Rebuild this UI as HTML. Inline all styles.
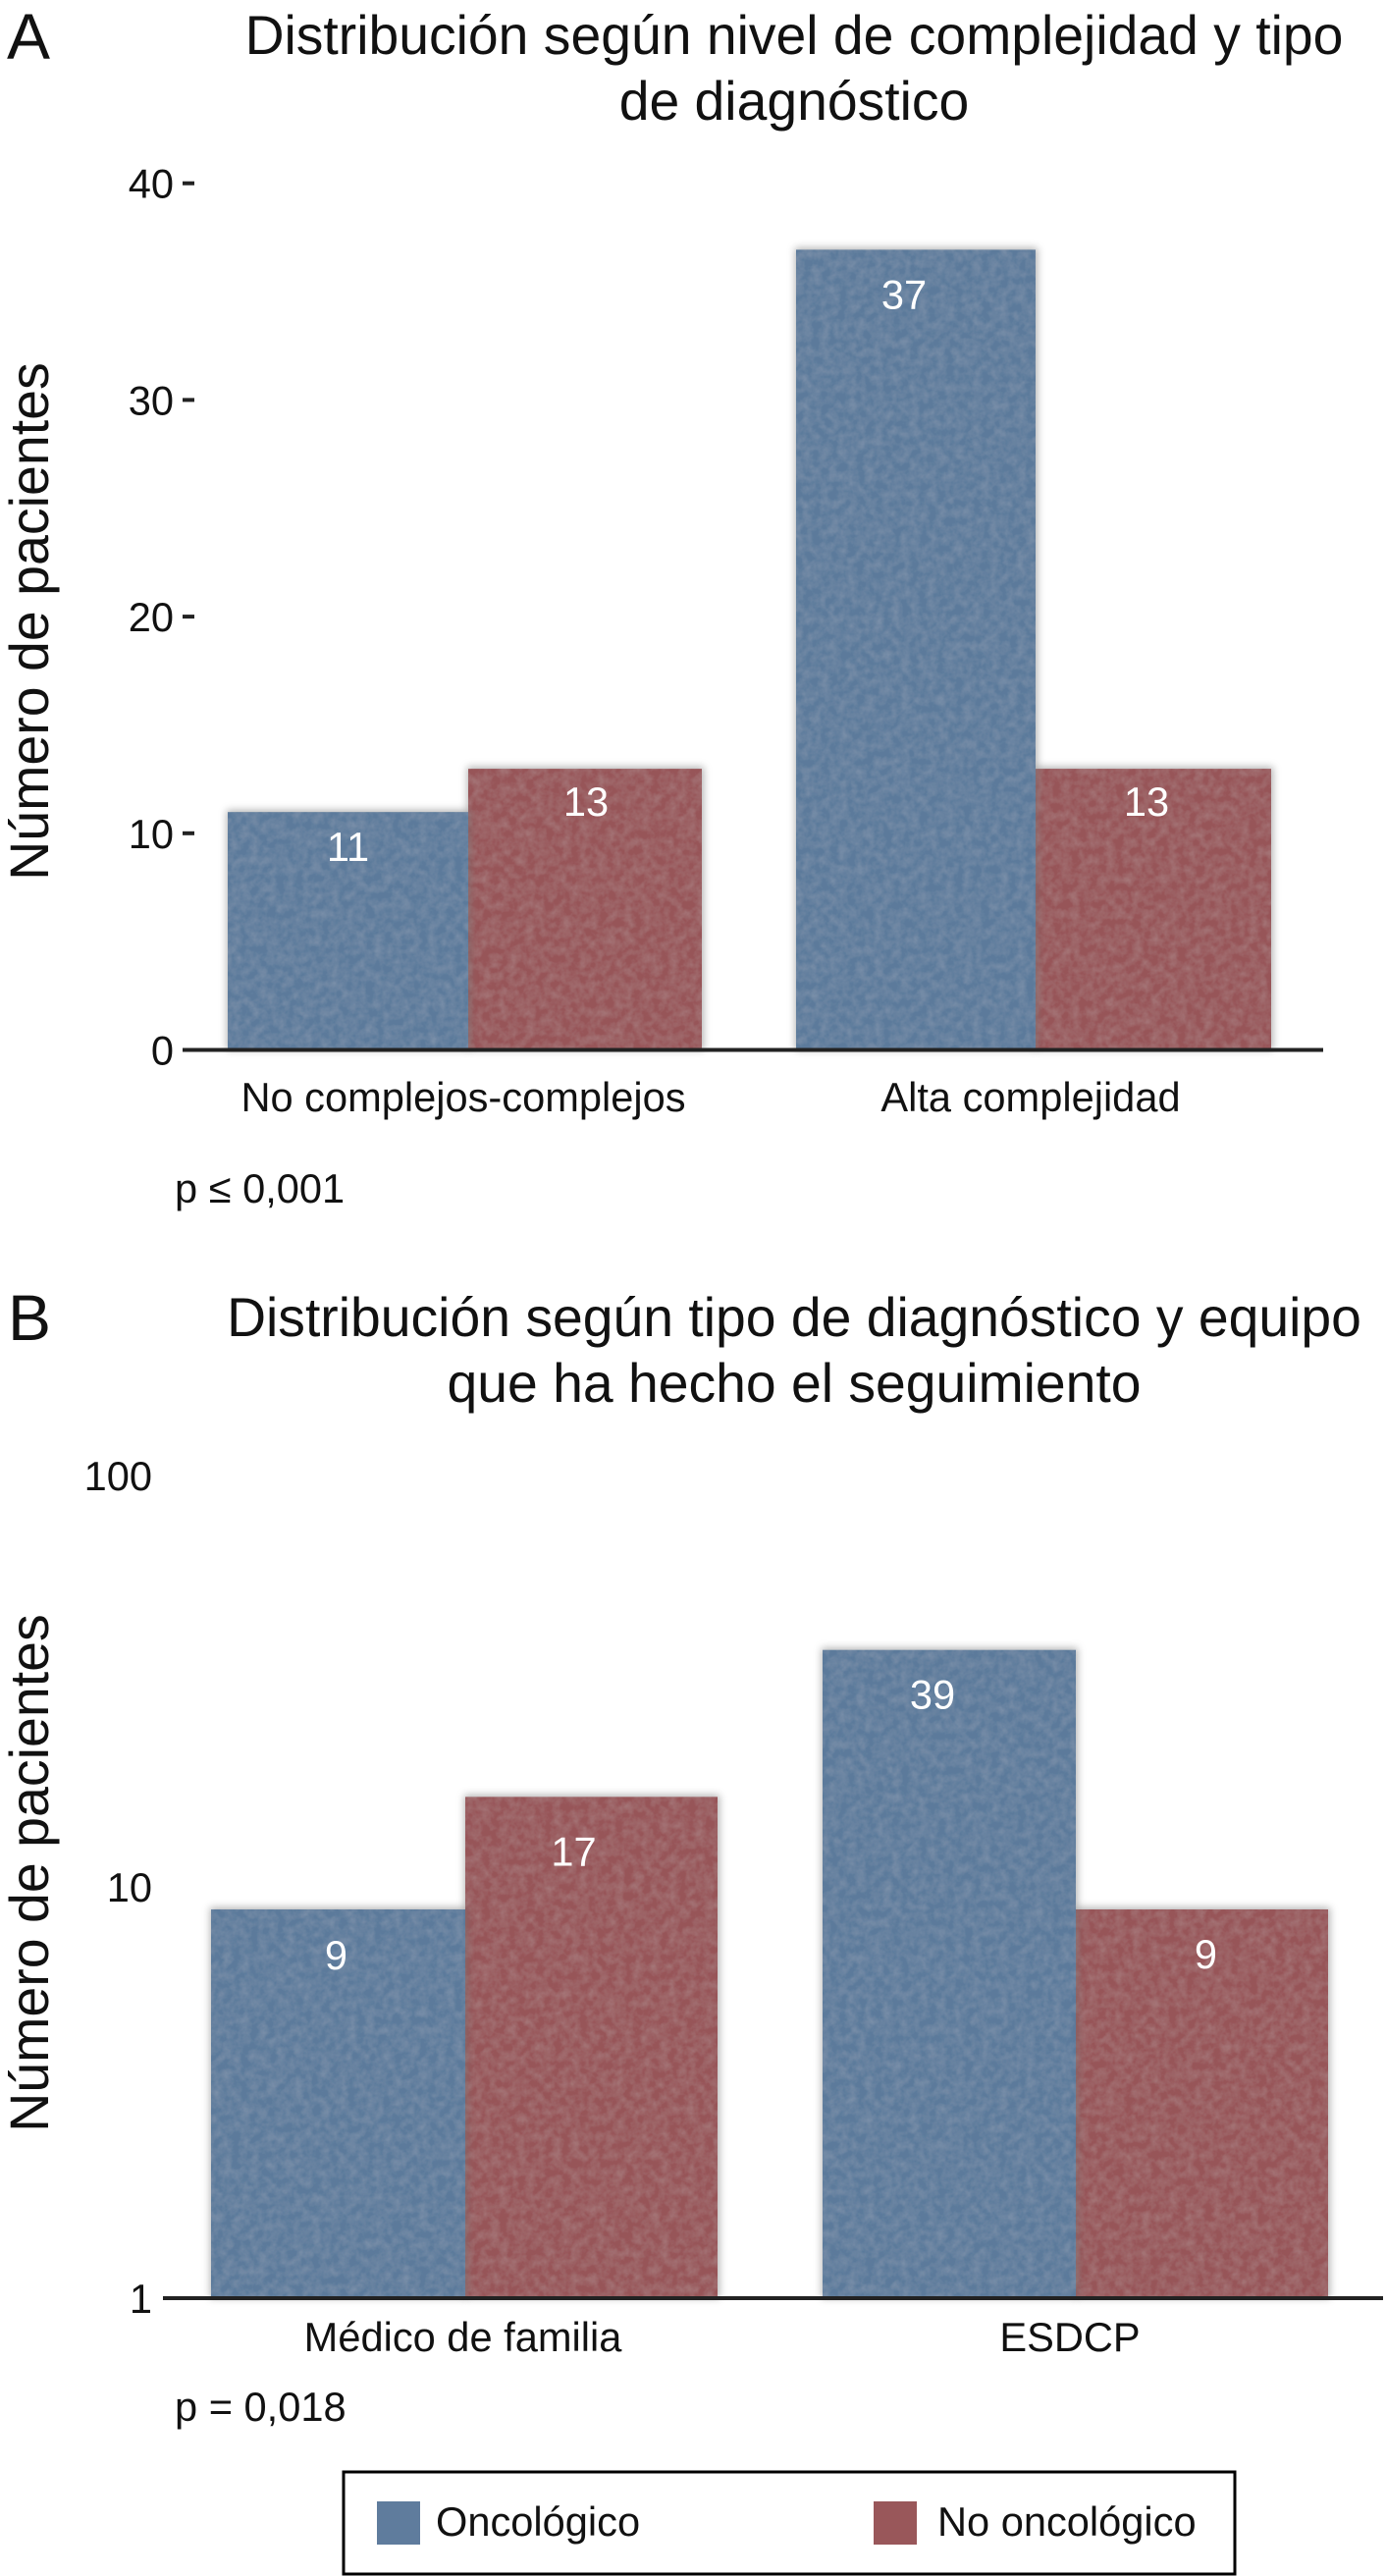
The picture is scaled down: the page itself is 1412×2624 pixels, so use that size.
<!DOCTYPE html>
<html lang="es">
<head>
<meta charset="utf-8">
<title>Distribución de pacientes</title>
<style>
html,body{margin:0;padding:0;background:#fff}
svg{display:block}
text{font-family:"Liberation Sans",Arial,sans-serif;fill:#111}
</style>
</head>
<body>
<svg id="figure" xmlns="http://www.w3.org/2000/svg" width="1412" height="2624" viewBox="0 0 1412 2624">
  <defs>
    <filter id="soft-shadow" x="-10%" y="-10%" width="120%" height="120%"><feGaussianBlur stdDeviation="4"/></filter>
    <filter id="mottle" x="0" y="0" width="100%" height="100%">
      <feTurbulence type="fractalNoise" baseFrequency="0.11" numOctaves="3" seed="4" result="n"/>
      <feColorMatrix in="n" type="matrix" values="0 0 0 0 1  0 0 0 0 1  0 0 0 0 1  0.16 0 0 0 -0.05" result="w"/>
      <feComposite in="w" in2="SourceAlpha" operator="in" result="wc"/>
      <feMerge><feMergeNode in="SourceGraphic"/><feMergeNode in="wc"/></feMerge>
    </filter>
  </defs>

  <g id="panel-a">
    <text x="7" y="60" font-size="66">A</text>
    <text x="809" y="55" font-size="55.3" text-anchor="middle">Distribución según nivel de complejidad y tipo</text>
    <text x="809" y="122" font-size="55.3" text-anchor="middle">de diagnóstico</text>
    <text transform="translate(49 633) rotate(-90)" font-size="55.5" text-anchor="middle">Número de pacientes</text>
    <g id="a-bars"></g>
    <g id="a-axis"></g>
    <text x="178" y="1225" font-size="41.6">p ≤ 0,001</text>
  </g>

  <g id="panel-b">
    <text x="8" y="1365" font-size="66">B</text>
    <text x="809" y="1361" font-size="55.3" text-anchor="middle">Distribución según tipo de diagnóstico y equipo</text>
    <text x="809" y="1428" font-size="55.3" text-anchor="middle">que ha hecho el seguimiento</text>
    <text transform="translate(49 1908) rotate(-90)" font-size="55.5" text-anchor="middle">Número de pacientes</text>
    <g id="b-bars"></g>
    <g id="b-axis"></g>
    <text x="178" y="2466" font-size="41.6">p = 0,018</text>
  </g>

  <g id="legend">
    <rect x="350" y="2518" width="908" height="104" fill="#fff" stroke="#000" stroke-width="3"/>
    <g>
      <rect x="384" y="2548" width="44" height="44" fill="#5f7c9d"/>
      <text x="444" y="2583" font-size="41.6">Oncológico</text>
    </g>
    <g>
      <rect x="890" y="2548" width="44" height="44" fill="#99575a"/>
      <text x="955" y="2583" font-size="41.6">No oncológico</text>
    </g>
  </g>
</svg>

<script>
// ---- data ----
const categoriesA = ["No complejos-complejos", "Alta complejidad"];
const oncologicoA = [11, 37];
const noOncologicoA = [13, 13];
const ticksA = [0, 10, 20, 30, 40];

const categoriesB = ["Médico de familia", "ESDCP"];
const oncologicoB = [9, 39];
const noOncologicoB = [17, 9];
const ticksB = [1, 10, 100];

// ---- layout ----
const NS = "http://www.w3.org/2000/svg";
const BLUE = "#5c7a9b";
const RED = "#975558";
const yA = v => 1069.5 - 22.03 * v;
const yATick = v => 1069.5 - 22.07 * v;
const yB = v => 2341 - 415 * Math.log10(v);
const yBTick = v => 2356 - 419 * Math.log10(v);

function draw(parent, tag) {
  const el = document.createElementNS(NS, tag);
  parent.appendChild(el);
  return el;
}

function drawBar(parent, x0, x1, top, base, fill, value, dx, dy, seriesKey) {
  const shadow = draw(parent, "rect");
  
  
  shadow.setAttribute("x", x0 - 1);
  shadow.setAttribute("y", top - 2);
  shadow.setAttribute("width", x1 - x0 + 3);
  shadow.setAttribute("height", base - top + 2);
  shadow.setAttribute("fill", "#777");
  shadow.setAttribute("opacity", "0.55");
  shadow.setAttribute("filter", "url(#soft-shadow)");

  const bar = draw(parent, "rect");
  
  
  bar.setAttribute("x", x0);
  bar.setAttribute("y", top);
  bar.setAttribute("width", x1 - x0);
  bar.setAttribute("height", base - top);
  bar.setAttribute("fill", fill);
  bar.setAttribute("filter", "url(#mottle)");

  const label = draw(parent, "text");
  
  
  label.setAttribute("x", (x0 + x1) / 2 + dx);
  label.setAttribute("y", top + dy);
  label.setAttribute("font-size", "41.6");
  label.setAttribute("text-anchor", "middle");
  label.setAttribute("style", "fill:#fff");
  label.textContent = value;
}

function drawPanel(cfg) {
  const bars = document.getElementById(cfg.barsId);
  const axis = document.getElementById(cfg.axisId);
  cfg.categories.forEach((cat, i) => {
    const e = cfg.edges[i];
    // red first so the blue bar's edge sits cleanly against it
    drawBar(bars, e[1], e[2], cfg.y(cfg.red[i]), cfg.base, RED, cfg.red[i], cfg.redNudge[i][0], cfg.redNudge[i][1], "no-oncologico-" + (i + 1));
    drawBar(bars, e[0], e[1], cfg.y(cfg.blue[i]), cfg.base, BLUE, cfg.blue[i], cfg.blueNudge[i][0], cfg.blueNudge[i][1], "oncologico-" + (i + 1));

    const xl = draw(axis, "text");
    
    
    xl.setAttribute("x", cfg.catX[i]);
    xl.setAttribute("y", cfg.catY);
    xl.setAttribute("font-size", "41.6");
    xl.setAttribute("text-anchor", "middle");
    xl.textContent = cat;
  });

  const line = draw(axis, "line");
  
  
  line.setAttribute("x1", cfg.axisX[0]);
  line.setAttribute("x2", cfg.axisX[1]);
  line.setAttribute("y1", cfg.base);
  line.setAttribute("y2", cfg.base);
  line.setAttribute("stroke", "#222");
  line.setAttribute("stroke-width", "4");

  cfg.ticks.forEach(t => {
    const tl = draw(axis, "text");
    
    
    tl.setAttribute("x", cfg.tickEnd);
    tl.setAttribute("y", cfg.tickLabelY(t));
    tl.setAttribute("font-size", "41.6");
    tl.setAttribute("text-anchor", "end");
    tl.textContent = t;
    if (cfg.tickMarks && t !== cfg.ticks[0]) {
      const tm = draw(axis, "line");
      
      
      tm.setAttribute("x1", 186);
      tm.setAttribute("x2", 198);
      tm.setAttribute("y1", yATick(t));
      tm.setAttribute("y2", yATick(t));
      tm.setAttribute("stroke", "#222");
      tm.setAttribute("stroke-width", "4");
    }
  });
}

drawPanel({
  barsId: "a-bars", axisId: "a-axis",
  categories: categoriesA, blue: oncologicoA, red: noOncologicoA, ticks: ticksA,
  y: yA, base: 1069.5, tickLabelY: v => yATick(v) + 15, tickEnd: 177, tickMarks: true,
  edges: [[232, 477, 715], [811, 1055, 1295]],
  blueNudge: [[0, 50], [-12, 60]], redNudge: [[1, 48], [-7, 48]],
  catX: [472, 1050], catY: 1132, axisX: [186, 1348]
});

drawPanel({
  barsId: "b-bars", axisId: "b-axis",
  categories: categoriesB, blue: oncologicoB, red: noOncologicoB, ticks: ticksB,
  y: yB, base: 2341, tickLabelY: yBTick, tickEnd: 155, tickMarks: false,
  edges: [[215, 474, 731], [838, 1096, 1353]],
  blueNudge: [[-2, 61], [-17, 60]], redNudge: [[-18, 70], [4, 60]],
  catX: [471.5, 1090], catY: 2395, axisX: [166, 1409]
});
</script>
</body>
</html>
